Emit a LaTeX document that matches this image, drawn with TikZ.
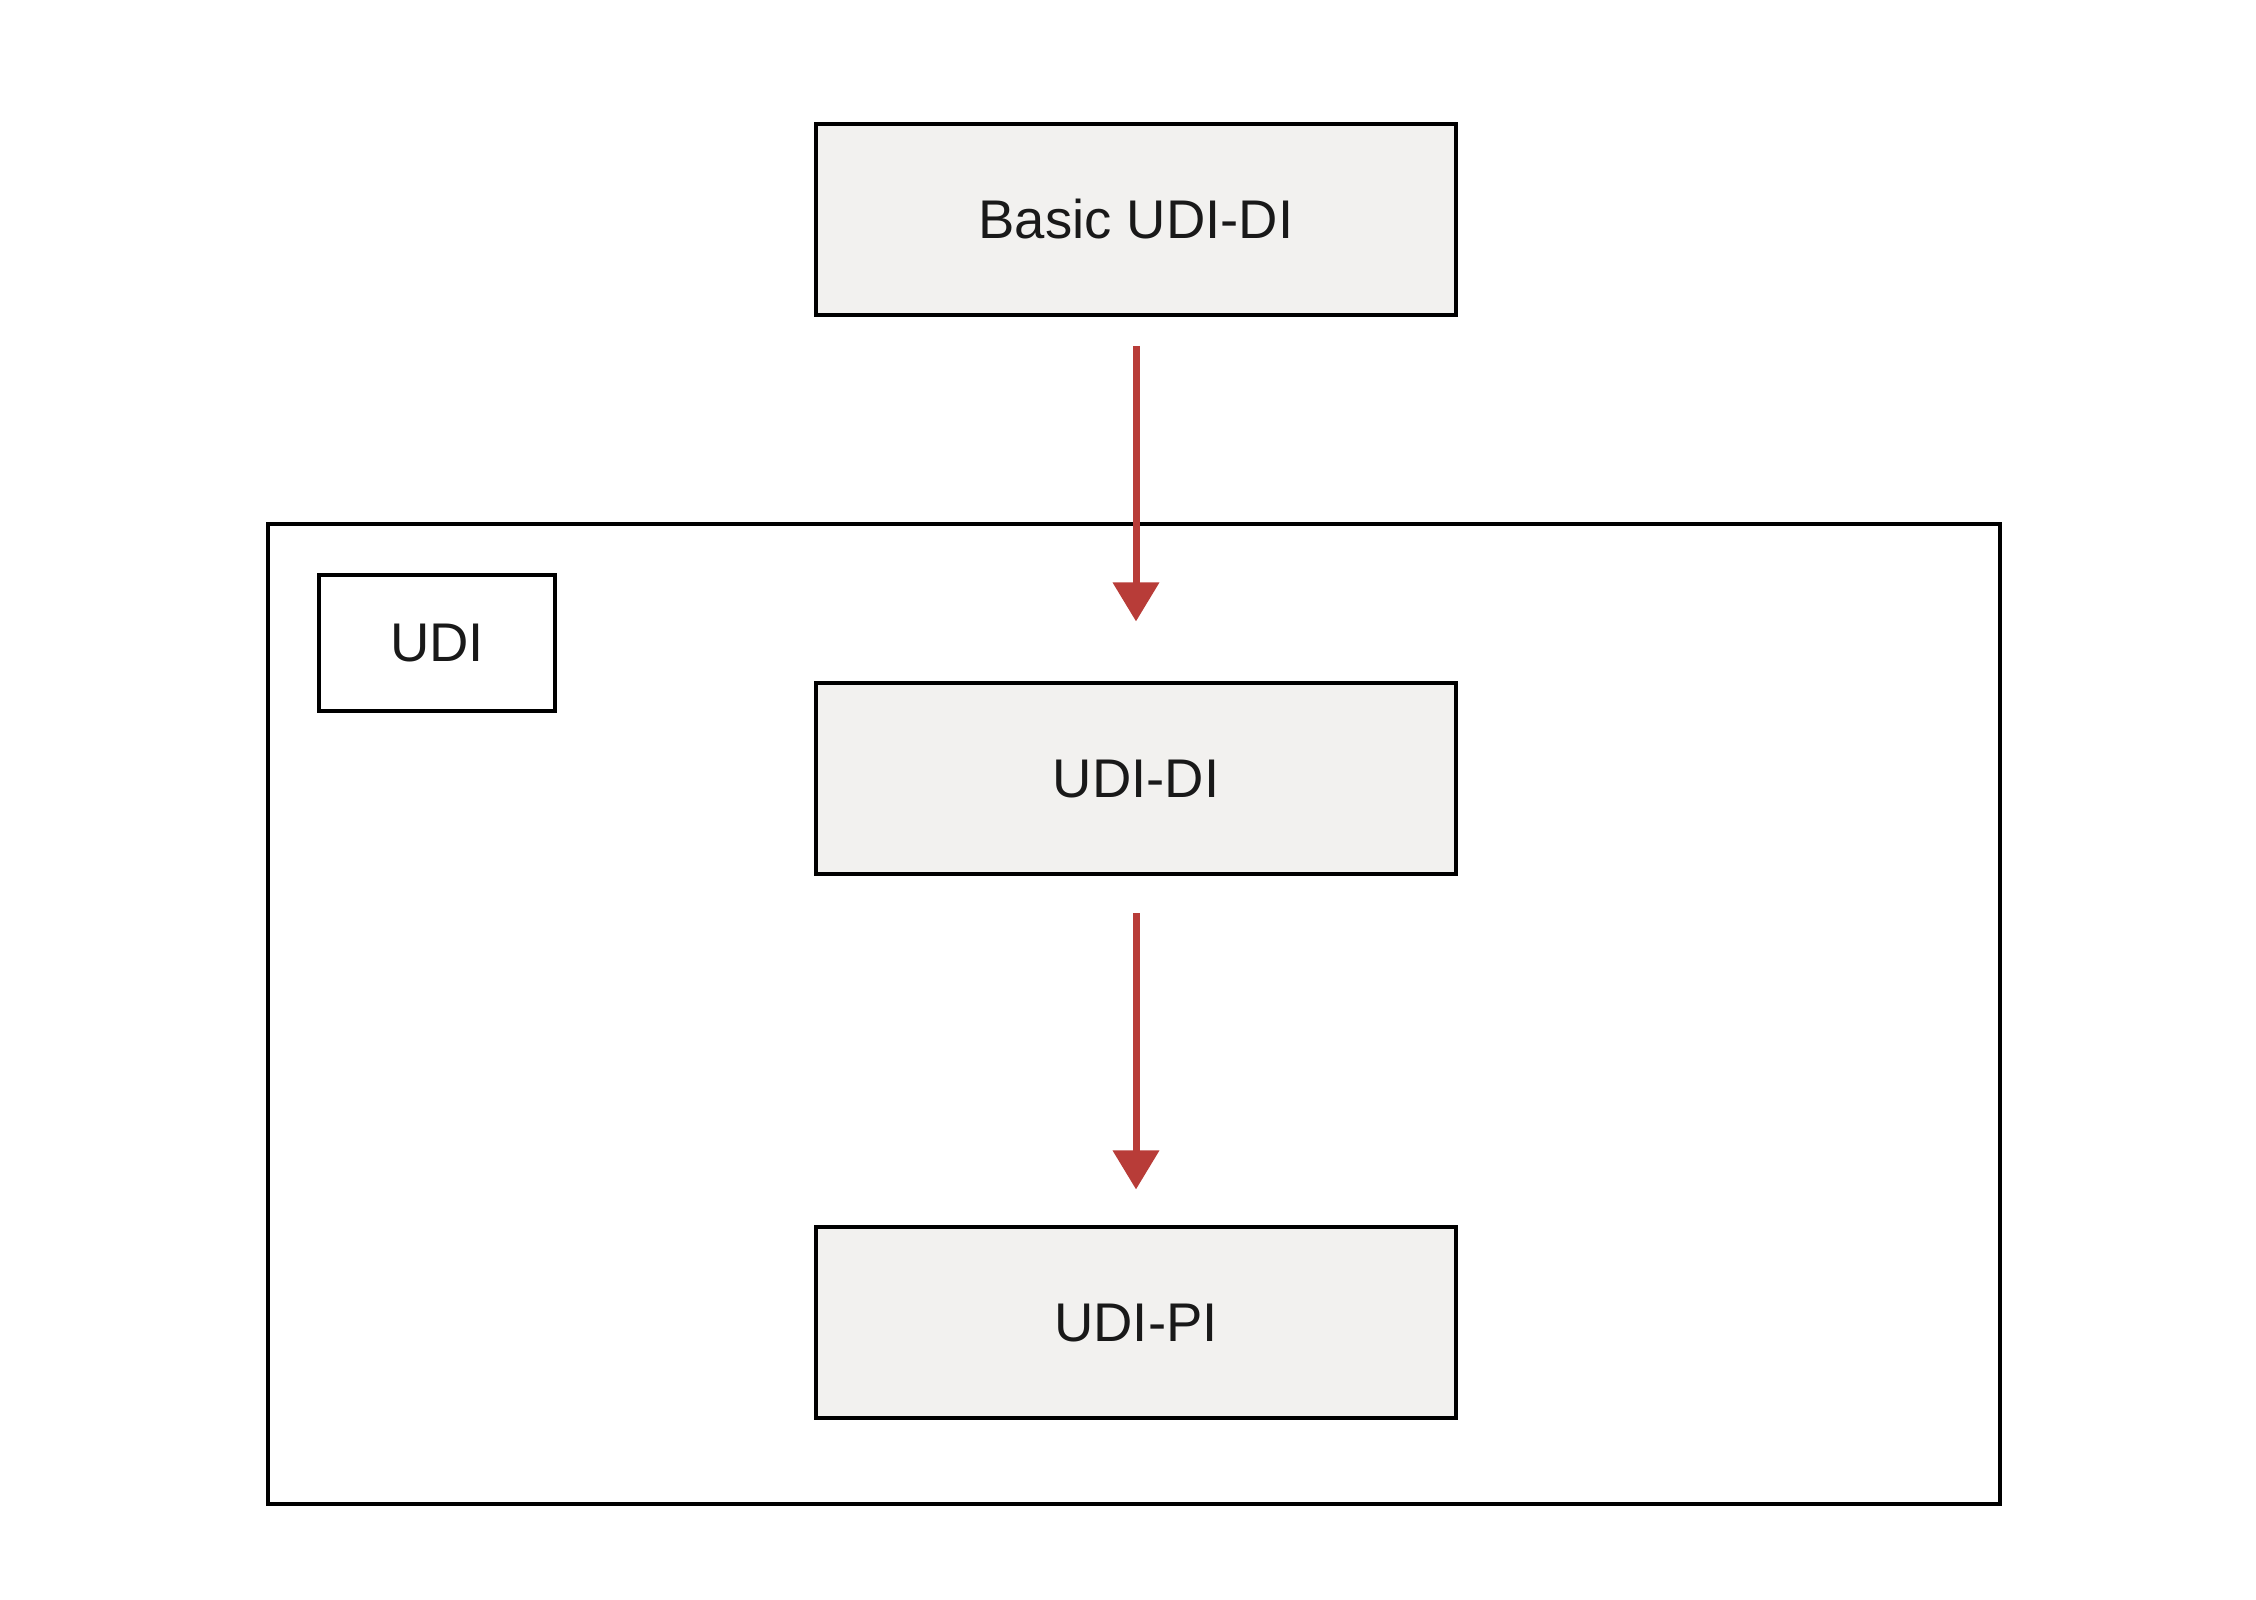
\documentclass[tikz,border=0pt]{standalone}
\usepackage{fontspec}
\setmainfont{Liberation Sans}
\usetikzlibrary{arrows.meta}
\definecolor{boxfill}{HTML}{F2F1EF}
\definecolor{arrowred}{HTML}{B83C38}
\begin{document}
\begin{tikzpicture}[x=1cm,y=1cm,
  idbox/.style={draw=black, line width=0.4mm, fill=boxfill, minimum width=6.4cm, minimum height=1.91cm, inner sep=0pt, font=\fontsize{15.5}{18}\selectfont, text=black!90},
  plainbox/.style={draw=black, line width=0.4mm, inner sep=0pt},
  flow/.style={draw=arrowred, line width=0.7mm, -{Triangle[width=4.5mm,length=3.9mm]}, color=arrowred}]
\useasboundingbox (0,0) rectangle (22.56,16);
\node[plainbox, minimum width=17.32cm, minimum height=9.8cm] (outer) at (11.34,5.86) {};
\node[plainbox, minimum width=2.36cm, minimum height=1.36cm, font=\fontsize{15.5}{18}\selectfont, text=black!90] (udi) at (4.37,9.57) {UDI};
\node[idbox] (basic) at (11.36,13.805) {Basic UDI-DI};
\node[idbox] (udidi) at (11.36,8.21) {UDI-DI};
\node[idbox] (udipi) at (11.36,2.77) {UDI-PI};
\draw[flow, shorten <=2.9mm, shorten >=6mm] (basic.south) -- (udidi.north);
\draw[flow, shorten <=3.7mm, shorten >=3.6mm] (udidi.south) -- (udipi.north);
\end{tikzpicture}
\end{document}
